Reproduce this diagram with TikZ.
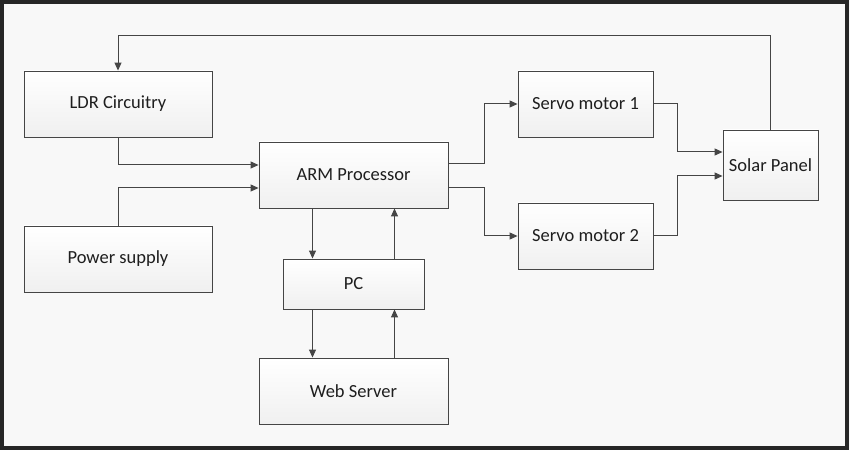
\documentclass[tikz,border=0pt]{standalone}
\usepackage{fontspec}
\setmainfont{Carlito}
\usetikzlibrary{arrows.meta,shadows}
\definecolor{edgegray}{HTML}{454545}
\definecolor{textgray}{HTML}{1E1E1E}
\definecolor{pagegray}{HTML}{F8F8F8}
\begin{document}
\begin{tikzpicture}[x=1pt,y=1pt,
  block/.style={draw=edgegray,line width=0.9pt,top color=white,bottom color=gray!12,
    drop shadow={opacity=0.2,shadow xshift=1pt,shadow yshift=-1pt},
    text=textgray,font=\fontsize{18.5}{21}\selectfont,inner sep=0pt},
  arr/.style={draw=edgegray,line width=1pt,-{Triangle[length=8pt,width=7pt]}}]
\useasboundingbox (0,0) rectangle (850,450);
% page and frame
\fill[pagegray] (0,0) rectangle (850,450);
\draw[line width=4pt,black!85] (2,2) rectangle (847,448);

% left column
\node[block,minimum width=188pt,minimum height=66pt] (ldr) at (118,346) {LDR Circuitry};
\node[block,minimum width=188pt,minimum height=66pt] (power) at (118,191) {Power supply};

% middle column
\node[block,minimum width=189pt,minimum height=66pt] (arm) at (353.5,275) {ARM Processor};
\node[block,minimum width=141pt,minimum height=50pt] (pc) at (353.5,166) {PC};
\node[block,minimum width=189pt,minimum height=66pt] (web) at (353.5,59) {Web Server};

% right side
\node[block,minimum width=135pt,minimum height=66pt] (servoa) at (585.5,346) {Servo motor 1};
\node[block,minimum width=135pt,minimum height=66pt] (servob) at (585.5,214) {Servo motor 2};
\node[block,minimum width=95pt,minimum height=70pt] (solar) at (770.5,285) {Solar Panel};

% inputs of the processor
\draw[arr] (ldr.south) |- ([yshift=10pt]arm.west);
\draw[arr] (power.north) |- ([yshift=-13pt]arm.west);

% processor to the servos
\draw[arr] ([yshift=11pt]arm.east) -- ++(36,0) |- (servoa.west);
\draw[arr] ([yshift=-13pt]arm.east) -- ++(36,0) |- (servob.west);

% servos to the panel
\draw[arr] (servoa.east) -- ++(24,0) |- ([yshift=13pt]solar.west);
\draw[arr] (servob.east) -- ++(24,0) |- ([yshift=-11pt]solar.west);

% feedback from the panel
\draw[arr] (solar.north) -- ++(0,94) -| (ldr.north);

% processor, PC and web server
\draw[arr] ([xshift=-41pt]arm.south) -- ([xshift=-41pt]pc.north);
\draw[arr] ([xshift=41pt]pc.north) -- ([xshift=41pt]arm.south);
\draw[arr] ([xshift=-41pt]pc.south) -- ([xshift=-41pt]web.north);
\draw[arr] ([xshift=41pt]web.north) -- ([xshift=41pt]pc.south);
\end{tikzpicture}
\end{document}
